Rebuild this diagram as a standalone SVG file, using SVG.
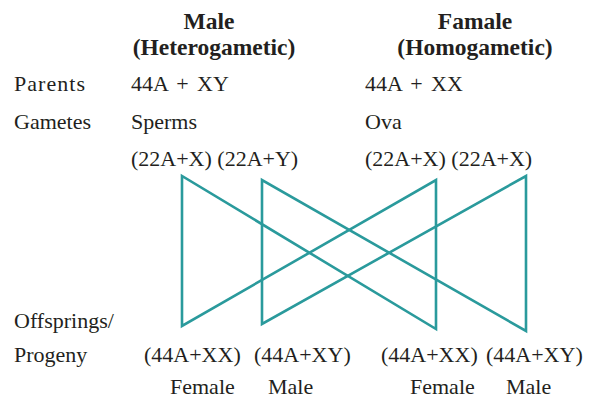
<svg xmlns="http://www.w3.org/2000/svg" width="596" height="400" viewBox="0 0 596 400">
<style>
text{font-family:'Liberation Serif','DejaVu Serif',serif;font-size:22px;fill:#231f20}
.b{font-weight:bold;text-anchor:middle;font-size:23.5px}
.w{word-spacing:3px}
.c{fill:none;stroke:#2a9a9c;stroke-width:2.6;stroke-linejoin:miter}
</style>
<rect width="596" height="400" fill="#fff"/>
<g id="male-header"><text class="b" x="209" y="29">Male</text><text class="b" x="214" y="55">(Heterogametic)</text></g>
<g id="female-header"><text class="b" x="475" y="29">Famale</text><text class="b" x="475" y="55">(Homogametic)</text></g>
<g id="labels">
<text x="14" y="91" textLength="71">Parents</text>
<text x="14" y="129">Gametes</text>
<text x="14" y="328">Offsprings/</text>
<text x="14" y="362">Progeny</text>
</g>
<g id="male-parent"><text class="w" x="131" y="91">44A + XY</text><text x="131" y="129">Sperms</text><text x="131" y="166">(22A+X) (22A+Y)</text></g>
<g id="female-parent"><text class="w" x="365" y="91">44A + XX</text><text x="365" y="129">Ova</text><text x="365" y="166">(22A+X) (22A+X)</text></g>
<g id="offspring1"><text x="144" y="362">(44A+XX)</text><text x="170" y="394">Female</text></g>
<g id="offspring2"><text x="254" y="362">(44A+XY)</text><text x="268" y="394">Male</text></g>
<g id="offspring3"><text x="381" y="362">(44A+XX)</text><text x="410" y="394">Female</text></g>
<g id="offspring4"><text x="486" y="362">(44A+XY)</text><text x="506" y="394">Male</text></g>
<g id="connectors">
<path class="c" d="M182,176 L182,326 L436,180 L436,329 Z"/>
<path class="c" d="M262,180 L262,324 L526,176 L526,331 Z"/>
</g>
</svg>
